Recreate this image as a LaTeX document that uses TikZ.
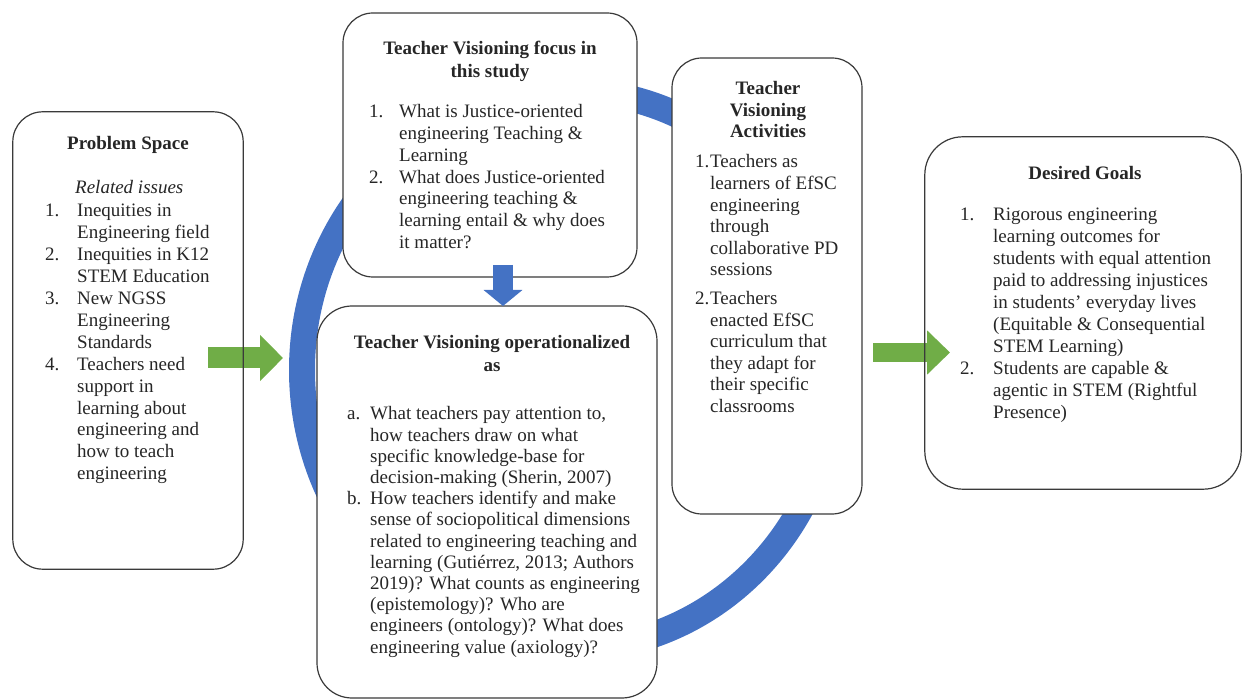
\documentclass[tikz,border=0pt]{standalone}
\usepackage{fontspec}
\setmainfont{Liberation Serif}
\usetikzlibrary{arrows.meta}

\definecolor{ringblue}{HTML}{4472C4}
\definecolor{arrowgreen}{HTML}{70AD47}
\definecolor{edgegray}{HTML}{3A3A3A}
\definecolor{inkgray}{HTML}{262626}

\newcommand{\bodyfont}{\fontsize{19}{21.5}\selectfont}
\newcommand{\leadfont}[1]{\fontsize{19}{#1}\selectfont}
% centred multi-line title, baseline on its first line
\newcommand{\titlelines}[1]{\begin{tabular}[t]{@{}c@{}}#1\end{tabular}}
% numbered list: label column of fixed width, then the text lines
\newcommand{\numlist}[2]{\begin{tabular}[t]{@{}p{#1}@{}l@{}}#2\end{tabular}}

\tikzset{
  panel/.style={fill=white, draw=edgegray, line width=1.2pt, rounded corners=30pt, inner sep=0pt},
  panelfill/.style={fill=white, rounded corners=30pt, inner sep=0pt},
  paneledge/.style={draw=edgegray, line width=1.2pt, rounded corners=30pt},
  ttl/.style={inner sep=0pt, text=inkgray, font=\leadfont{22.5}\bfseries, anchor=base},
  txt/.style={inner sep=0pt, text=inkgray, font=\bodyfont, anchor=base west},
  fatgreen/.style={draw=arrowgreen, line width=21pt, -{Triangle[length=23pt, width=45pt]}},
  fatblue/.style={draw=ringblue, line width=20pt, -{Triangle[length=16pt, width=38pt]}},
}

\begin{document}
\begin{tikzpicture}[x=1pt, y=-1pt]
\useasboundingbox (0,0) rectangle (1243,700);

% the cycle ring behind the central panels
\coordinate (ringc) at (569,370);
\draw[ringblue, line width=26pt] (ringc) ellipse[x radius=267pt, y radius=279pt];

% panels
\node[panelfill, minimum width=230pt, minimum height=457pt] (ps) at (128,340.5) {};
\node[panel, minimum width=294pt, minimum height=264pt] (focus) at (490,145) {};
\node[panel, minimum width=340pt, minimum height=392pt, rounded corners=35pt] (op) at (487,502) {};
\node[panel, minimum width=190pt, minimum height=456pt] (act) at (767,286) {};
\node[panelfill, minimum width=316pt, minimum height=352pt, rounded corners=38pt] (goals) at (1083,313) {};

% flow arrows
\coordinate (g1s) at (208,358);
\coordinate (g1e) at (283,358);
\draw[fatgreen] (g1s) -- (g1e);
\coordinate (g2s) at (873,352.5);
\coordinate (g2e) at (950,352.5);
\draw[fatgreen, line width=19pt, -{Triangle[length=23pt, width=43pt]}] (g2s) -- (g2e);
\coordinate (bds) at (503,265);
\coordinate (bde) at (503,306);
\draw[fatblue] (bds) -- (bde);

% outlines of the outer panels, over the arrows
\draw[paneledge] (ps.south west) rectangle (ps.north east);
\draw[paneledge, rounded corners=38pt] (goals.south west) rectangle (goals.north east);

% Problem Space
\node[ttl] (pstitle) at (128,150) {Problem Space};
\node[txt, font=\bodyfont\itshape] (psrel) at (75,194) {Related issues};
\node[txt, font=\leadfont{21.9}] (pslist) at (45,217) {\numlist{32pt}{%
1. & Inequities in\\
   & Engineering field\\
2. & Inequities in K12\\
   & STEM Education\\
3. & New NGSS\\
   & Engineering\\
   & Standards\\
4. & Teachers need\\
   & support in\\
   & learning about\\
   & engineering and\\
   & how to teach\\
   & engineering}};

% Teacher Visioning focus
\node[ttl] (fotitle) at (490,55) {\titlelines{Teacher Visioning focus in\\ this study}};
\node[txt, font=\leadfont{21.7}] (folist) at (369,118) {\numlist{30pt}{%
1. & What is Justice-oriented\\
   & engineering Teaching \&\\
   & Learning\\
2. & What does Justice-oriented\\
   & engineering teaching \&\\
   & learning entail \& why does\\
   & it matter?}};

% Teacher Visioning operationalized
\node[ttl] (optitle) at (492,349) {\titlelines{Teacher Visioning operationalized\\ as}};
\node[txt, font=\leadfont{21.2}] (oplist) at (347,420) {\numlist{23pt}{%
a. & What teachers pay attention to,\\
   & how teachers draw on what\\
   & specific knowledge-base for\\
   & decision-making (Sherin, 2007)\\
b. & How teachers identify and make\\
   & sense of sociopolitical dimensions\\
   & related to engineering teaching and\\
   & learning (Gutiérrez, 2013; Authors\\
   & 2019)? What counts as engineering\\
   & (epistemology)? Who are\\
   & engineers (ontology)? What does\\
   & engineering value (axiology)?}};

% Teacher Visioning Activities
\node[ttl, font=\leadfont{21.2}\bfseries] (actitle) at (768,95) {\titlelines{Teacher\\ Visioning\\ Activities}};
\node[txt, font=\leadfont{21.6}] (aclist) at (695,168) {\numlist{15pt}{%
1. & Teachers as\\
   & learners of EfSC\\
   & engineering\\
   & through\\
   & collaborative PD\\
   & sessions\\[7pt]
2. & Teachers\\
   & enacted EfSC\\
   & curriculum that\\
   & they adapt for\\
   & their specific\\
   & classrooms}};

% Desired Goals
\node[ttl] (gotitle) at (1085,180) {Desired Goals};
\node[txt, font=\leadfont{22}] (golist) at (960,221) {\numlist{33pt}{%
1. & Rigorous engineering\\
   & learning outcomes for\\
   & students with equal attention\\
   & paid to addressing injustices\\
   & in students' everyday lives\\
   & (Equitable \& Consequential\\
   & STEM Learning)\\
2. & Students are capable \&\\
   & agentic in STEM (Rightful\\
   & Presence)}};
\end{tikzpicture}
\end{document}
